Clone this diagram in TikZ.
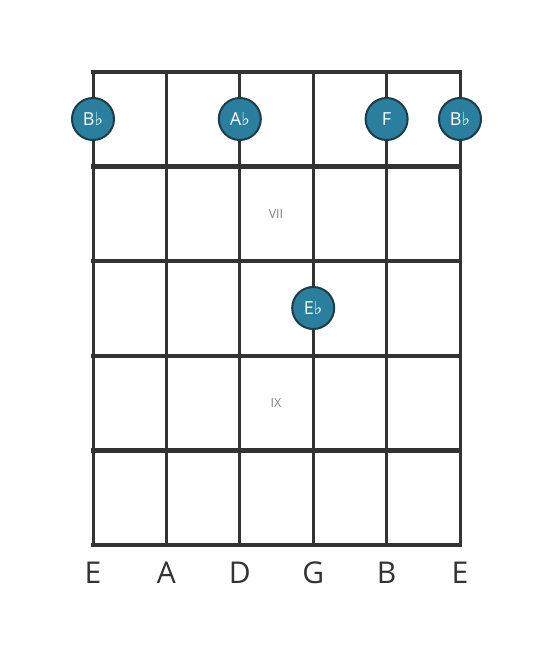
\documentclass[tikz,border=0pt]{standalone}
\usepackage{fontspec}
\setmainfont{Open Sans}
\newfontfamily\symfont{DejaVu Sans}
\definecolor{notefill}{HTML}{2A7F9E}
\definecolor{noteedge}{HTML}{1E3B48}
\definecolor{gridline}{HTML}{333333}
\newcommand{\fl}{{\symfont\char"266D}}
\tikzset{
 notedot/.style={circle, fill=notefill, draw=noteedge, line width=2pt, minimum size=42pt, inner sep=0pt, text=white, font=\fontsize{18}{18}\selectfont},
 fretnum/.style={text=gray, font=\fontsize{12.5}{12.5}\selectfont},
 stringname/.style={text=gridline, font=\fontsize{30}{30}\selectfont}
}
\begin{document}
\begin{tikzpicture}[x=1pt,y=-1pt]
\useasboundingbox (0,0) rectangle (553,656);
% strings
\foreach \s in {0,...,5}
 \draw[gridline, line width=3pt] (93+73.4*\s,72) -- (93+73.4*\s,545);
% frets
\foreach \f in {0,...,5}
 \draw[gridline, line width=4.5pt, line cap=rect] (93,72+94.6*\f) -- (460,72+94.6*\f);
% fret numbers
\node[fretnum] (vii) at (276,214) {VII};
\node[fretnum] (ix) at (276,403) {IX};
% notes
\node[notedot] (n1) at (93,119) {B\fl};
\node[notedot] (n3) at (239.8,119) {A\fl};
\node[notedot] (n5) at (386.6,119) {F};
\node[notedot] (n6) at (460,119) {B\fl};
\node[notedot] (n4) at (313.2,308) {E\fl};
% string names
\foreach \n [count=\i from 0] in {E,A,D,G,B,E}
 \node[stringname] (s\i) at (93+73.4*\i,573) {\n};
\end{tikzpicture}
\end{document}
